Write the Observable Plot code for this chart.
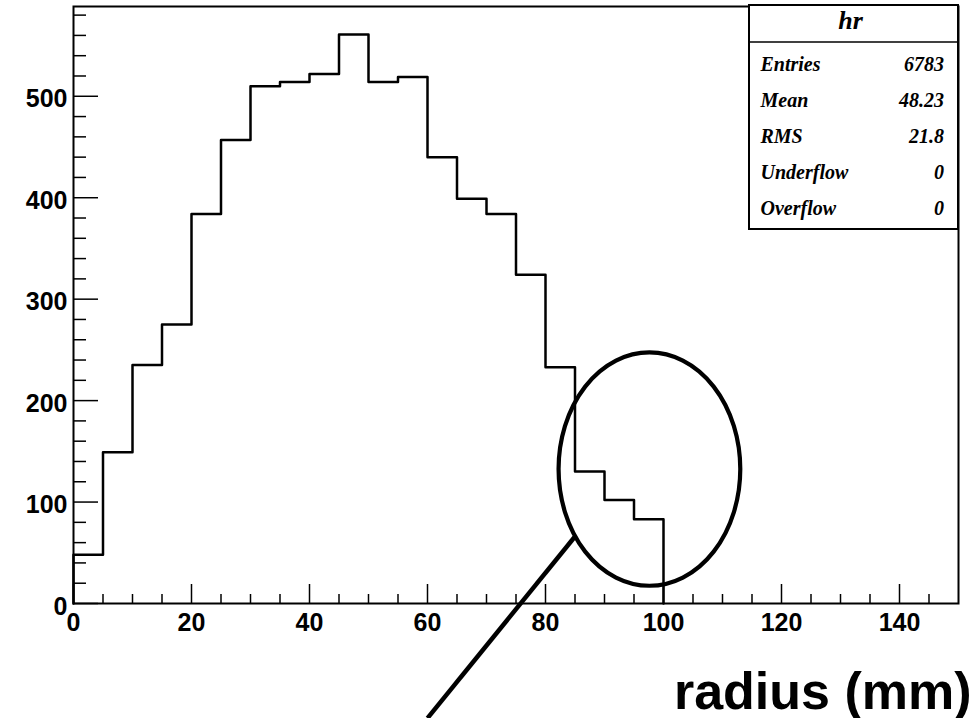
<!DOCTYPE html>
<html>
<head>
<meta charset="utf-8">
<script src="https://cdn.jsdelivr.net/npm/d3@7"></script>
<script src="https://cdn.jsdelivr.net/npm/@observablehq/plot@0.6"></script>
<style>
  html, body { margin: 0; padding: 0; background: #fff; }
  #chart svg { display: block; }
</style>
</head>
<body>
<div id="chart"></div>
<script>
// Histogram "hr": entries per 5 mm radius bin (lower bin edges and counts)
const binLow = [0, 5, 10, 15, 20, 25, 30, 35, 40, 45, 50, 55, 60, 65, 70, 75, 80, 85, 90, 95];
const binWidth = 5;
const counts = [48, 149, 235, 275, 384, 457, 510, 514, 522, 561, 514, 519, 440, 399, 384, 324, 233, 130, 102, 83];

// Axis ticks
const xMajor = [0, 20, 40, 60, 80, 100, 120, 140];
const xMinor = [5, 10, 15, 25, 30, 35, 45, 50, 55, 65, 70, 75, 85, 90, 95, 105, 110, 115, 125, 130, 135, 145];
const yMajor = [0, 100, 200, 300, 400, 500];
const yMinor = [20, 40, 60, 80, 120, 140, 160, 180, 220, 240, 260, 280, 320, 340, 360, 380, 420, 440, 460, 480, 520, 540, 560, 580];

// Statistics box
const statTitle = "hr";
const statNames = ["Entries", "Mean", "RMS", "Underflow", "Overflow"];
const statValues = ["6783", "48.23", "21.8", "0", "0"];

const axisTitle = "radius (mm)";

// Callout around the tail of the distribution, in data units
const calloutCenter = {x: 97.7, y: 132};
const calloutRadius = {x: 15.4, y: 115};
const pointer = [{x1: 84.9, y1: 65.3, x2: 60, y2: -113}];

// Step outline of the histogram: rises from zero at the first edge, drops to zero at the last
const lastEdge = binLow[binLow.length - 1] + binWidth;
const outline = [{x: binLow[0], y: 0}]
  .concat(binLow.map((x0, i) => ({x: x0, y: counts[i]})))
  .concat([{x: lastEdge, y: counts[counts.length - 1]}, {x: lastEdge, y: 0}]);

const sans = "'Liberation Sans', Arial, Helvetica, sans-serif";
const serif = "'Liberation Serif', 'Times New Roman', Times, serif";

function calloutEllipse(index, {x, y}) {
  return d3.create("svg:ellipse")
    .attr("cx", x(calloutCenter.x))
    .attr("cy", y(calloutCenter.y))
    .attr("rx", x(calloutCenter.x + calloutRadius.x) - x(calloutCenter.x))
    .attr("ry", y(calloutCenter.y - calloutRadius.y) - y(calloutCenter.y))
    .attr("fill", "none")
    .attr("stroke", "black")
    .attr("stroke-width", 4.2)
    .node();
}

function statsBox(index, scales, values, {width, marginRight, marginTop}) {
  const right = width - marginRight, left = right - 209;
  const top = marginTop - 1, bottom = top + 224;
  const g = d3.create("svg:g")
    .attr("font-family", serif)
    .attr("text-anchor", "start")
    .attr("fill", "black");
  g.append("rect")
    .attr("x", left).attr("y", top)
    .attr("width", right - left).attr("height", bottom - top)
    .attr("fill", "white").attr("stroke", "black").attr("stroke-width", 2);
  g.append("line")
    .attr("x1", left).attr("x2", right)
    .attr("y1", top + 37).attr("y2", top + 37)
    .attr("stroke", "black").attr("stroke-width", 1.5);
  g.append("text")
    .attr("x", (left + right) / 2 - 3).attr("y", top + 23.5)
    .attr("text-anchor", "middle")
    .attr("font-size", 26).attr("font-style", "italic").attr("font-weight", "bold")
    .text(statTitle);
  statNames.forEach((name, i) => {
    const yb = top + 66 + i * 35.9;
    g.append("text")
      .attr("x", left + 11.5).attr("y", yb)
      .attr("text-anchor", "start")
      .attr("font-size", 20).attr("font-style", "italic").attr("font-weight", "bold")
      .text(name);
    g.append("text")
      .attr("x", right - 14).attr("y", yb)
      .attr("text-anchor", "end")
      .attr("font-size", 20).attr("font-style", "italic").attr("font-weight", "bold")
      .text(statValues[i]);
  });
  return g.node();
}

const chart = Plot.plot({
  width: 979,
  height: 718,
  marginLeft: 73,
  marginRight: 21,
  marginTop: 6,
  marginBottom: 115,
  x: {domain: [0, 150]},
  y: {domain: [0, 588.5]},
  style: {background: "white", color: "black", overflow: "visible"},
  marks: [
    Plot.line(outline, {x: "x", y: "y", curve: "step-after", stroke: "black", strokeWidth: 2.5}),

    // inward ticks
    Plot.axisX({ticks: xMinor, tickSize: -9, fill: "none", label: null, strokeWidth: 1.5}),
    Plot.axisX({ticks: xMajor, tickSize: -19, fill: "none", label: null, strokeWidth: 1.5}),
    Plot.axisY({ticks: yMinor, tickSize: -13, fill: "none", label: null, strokeWidth: 1.5}),
    Plot.axisY({ticks: yMajor, tickSize: -25, fill: "none", label: null, strokeWidth: 1.5}),

    // tick labels
    Plot.axisX({ticks: xMajor, tickSize: 0, tickPadding: 10, label: null, tickFormat: d => String(d),
      fontSize: 25, fontWeight: "bold", fontFamily: sans}),
    Plot.axisY({ticks: yMajor, tickSize: 0, tickPadding: 6, label: null, tickFormat: d => String(d),
      fontSize: 25, fontWeight: "bold", fontFamily: sans, dy: 3}),

    Plot.frame({stroke: "black", strokeWidth: 2}),

    calloutEllipse,
    Plot.link(pointer, {x1: "x1", y1: "y1", x2: "x2", y2: "y2", stroke: "black", strokeWidth: 4.5}),

    Plot.text([axisTitle], {frameAnchor: "bottom-right", textAnchor: "end", lineAnchor: "bottom",
      dx: 13, dy: 105, fontSize: 52, fontWeight: "bold", fontFamily: sans}),

    statsBox
  ]
});

document.getElementById("chart").appendChild(chart);
</script>
</body>
</html>
